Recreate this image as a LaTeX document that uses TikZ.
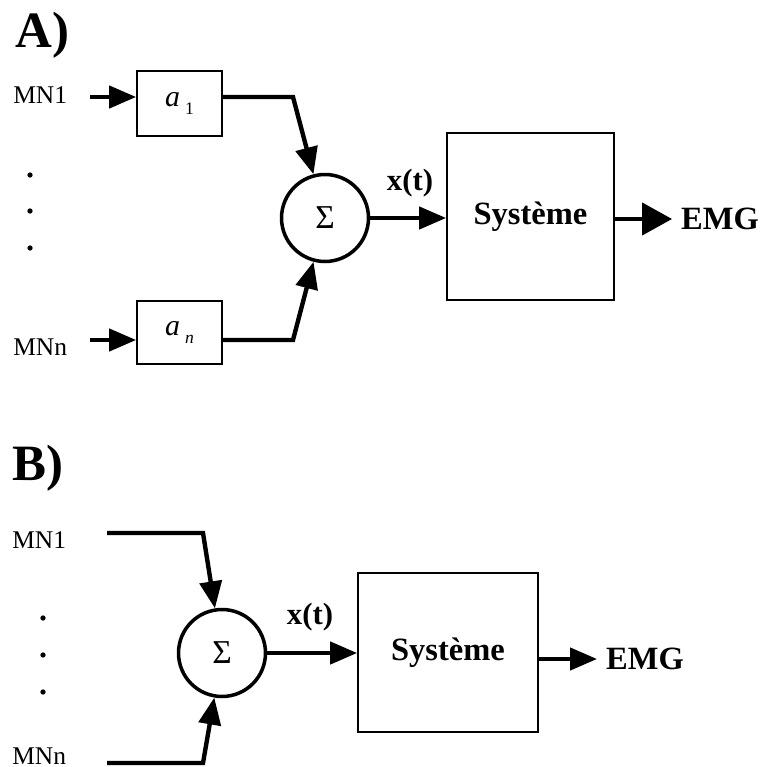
\documentclass[tikz,border=0pt]{standalone}
\usepackage{fontspec}
\setmainfont{Liberation Serif}
\usetikzlibrary{arrows.meta}
\newcommand{\coef}[1]{\textit{a}\,\raisebox{-0.55ex}{\fontsize{10}{10}\selectfont #1}}

\begin{document}
\begin{tikzpicture}[x=0.02cm,y=-0.02cm,
  blk/.style={draw,line width=1pt,inner sep=0pt},
  coefbox/.style={blk,minimum width=1.70cm,minimum height=1.28cm,font=\fontsize{17}{17}\selectfont},
  sysbox/.style={blk,font=\bfseries\fontsize{18.5}{18.5}\selectfont},
  sumnode/.style={draw,circle,line width=2pt,minimum size=1.74cm,inner sep=0pt,font=\fontsize{19}{19}\selectfont},
  conn/.style={line width=2.5pt,-{Triangle[length=0.54cm,width=0.44cm]}},
  bigconn/.style={line width=2.5pt,-{Triangle[length=0.60cm,width=0.64cm]}},
  inlbl/.style={anchor=base west,inner sep=0pt,font=\fontsize{14.5}{14.5}\selectfont},
  panel/.style={anchor=base west,inner sep=0pt,font=\bfseries\fontsize{29}{29}\selectfont},
  sig/.style={font=\bfseries\fontsize{17.5}{17.5}\selectfont},
  outlbl/.style={inner sep=5pt,font=\bfseries\fontsize{18.5}{18.5}\selectfont}]
\path[use as bounding box] (0,0) rectangle (763,767);

% A)
\node[panel] (lblA) at (15,48) {A)};
\node[inlbl] (mnA1) at (13,104) {MN1};
\node[inlbl] (mnAn) at (13,355) {MNn};
\foreach \y in {175,211,248} \fill (30,\y) circle (1.5pt);
\coordinate (inA1) at (90,97);
\coordinate (inAn) at (90,340);
\coordinate (kA1) at (293,97);
\coordinate (kAn) at (293,340);
\node[coefbox,minimum height=1.30cm] (boxA1) at (179.5,103.5) {\coef{1}};
\node[coefbox,minimum height=1.26cm] (boxAn) at (179.5,332.5) {\coef{\textit{n}}};
\node[sumnode] (sumA) at (325,218) {Σ};
\node[sysbox,minimum width=3.34cm,minimum height=3.34cm] (sysA) at (530.5,216.5) {Système};
\node[sig] (xtA) at (410,183) {x(t)};
\node[outlbl] (emgA) at (720,219) {EMG};
\draw[conn] (inA1) -- (boxA1.west |- inA1);
\draw[conn] (inAn) -- (boxAn.west |- inAn);
\draw[conn] (boxA1.east |- kA1) -- (kA1) -- (sumA);
\draw[conn] (boxAn.east |- kAn) -- (kAn) -- (sumA);
\draw[conn] (sumA.east) -- (sumA.east -| sysA.west);
\draw[bigconn] (sysA.east |- emgA.west) -- (emgA.west);

% B)
\node[panel] (lblB) at (12,480) {B)};
\node[inlbl] (mnB1) at (12,548) {MN1};
\node[inlbl] (mnBn) at (12,764) {MNn};
\foreach \y in {618,655,692} \fill (43,\y) circle (1.5pt);
\coordinate (inB1) at (107,533);
\coordinate (inBn) at (107,763);
\coordinate (kB1) at (203,533);
\coordinate (kBn) at (203,763);
\node[sumnode] (sumB) at (222,653) {Σ};
\node[sysbox,minimum width=3.60cm,minimum height=3.18cm] (sysB) at (448,652.5) {Système};
\node[sig] (xtB) at (310,617) {x(t)};
\node[outlbl] (emgB) at (645,659) {EMG};
\draw[conn] (inB1) -- (kB1) -- (sumB);
\draw[conn] (inBn) -- (kBn) -- (sumB);
\draw[conn] (sumB.east) -- (sumB.east -| sysB.west);
\draw[conn] (sysB.east |- emgB.west) -- (emgB.west);
\end{tikzpicture}
\end{document}
